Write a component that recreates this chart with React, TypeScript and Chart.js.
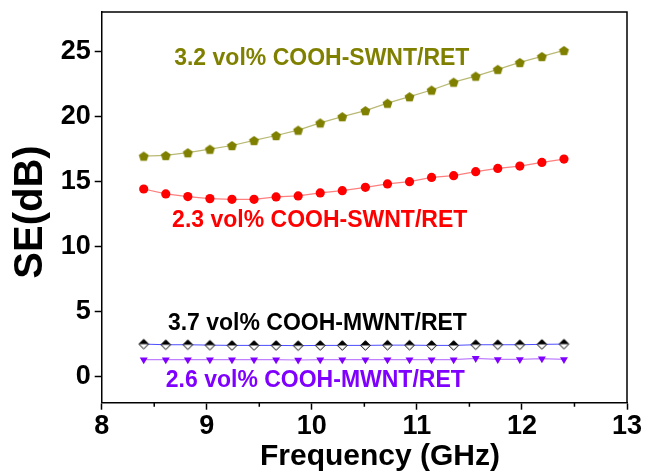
import React, { useEffect, useRef } from "react";
import { Chart, registerables } from "chart.js";

Chart.register(...registerables);

// ---- data ----
const frequencyGHz = [8.40, 8.61, 8.82, 9.03, 9.24, 9.45, 9.66, 9.87, 10.08, 10.29, 10.51, 10.72, 10.93, 11.14, 11.35, 11.56, 11.77, 11.98, 12.19, 12.40];
const swnt32 = [16.94, 16.99, 17.2, 17.47, 17.75, 18.14, 18.52, 18.93, 19.49, 19.97, 20.43, 21.0, 21.5, 22.01, 22.62, 23.08, 23.6, 24.13, 24.59, 25.05];
const swnt23 = [14.41, 14.03, 13.83, 13.67, 13.62, 13.62, 13.8, 13.88, 14.11, 14.28, 14.54, 14.8, 14.97, 15.3, 15.43, 15.74, 15.99, 16.17, 16.45, 16.71];
const mwnt37 = [2.5, 2.45, 2.45, 2.42, 2.4, 2.4, 2.4, 2.38, 2.4, 2.4, 2.4, 2.42, 2.42, 2.4, 2.4, 2.45, 2.45, 2.45, 2.48, 2.5];
const mwnt26 = [1.3, 1.3, 1.3, 1.3, 1.3, 1.3, 1.3, 1.28, 1.3, 1.3, 1.3, 1.3, 1.3, 1.3, 1.3, 1.4, 1.32, 1.32, 1.38, 1.32];

const xTicks = [8, 9, 10, 11, 12, 13];
const xMinorTicks = [8.5, 9.5, 10.5, 11.5, 12.5];
const yTicks = [0, 5, 10, 15, 20, 25];

const labels = [
  { text: "3.2 vol% COOH-SWNT/RET", x: 8.69, y: 23.94, color: "#808000" },
  { text: "2.3 vol% COOH-SWNT/RET", x: 8.67, y: 11.5, color: "#ff0000" },
  { text: "3.7 vol% COOH-MWNT/RET", x: 8.63, y: 3.59, color: "#000000" },
  { text: "2.6 vol% COOH-MWNT/RET", x: 8.61, y: -0.79, color: "#8000ff" },
];

const FONT = "'Liberation Sans', Arial, sans-serif";

function makePentagon(color: string, r: number) {
  const c = document.createElement("canvas");
  const s = Math.ceil(r * 2 + 2);
  c.width = s; c.height = s;
  const g = c.getContext("2d")!;
  g.beginPath();
  for (let i = 0; i < 5; i++) {
    const a = -Math.PI / 2 + (i * 2 * Math.PI) / 5;
    const px = s / 2 + r * Math.cos(a);
    const py = s / 2 + 0.6 + r * Math.sin(a);
    if (i === 0) g.moveTo(px, py); else g.lineTo(px, py);
  }
  g.closePath();
  g.fillStyle = color;
  g.fill();
  return c;
}

function makeHalfDiamond(r: number) {
  const c = document.createElement("canvas");
  const s = Math.ceil(r * 2 + 3);
  c.width = s; c.height = s;
  const g = c.getContext("2d")!;
  const cx = s / 2, cy = s / 2;
  g.beginPath();
  g.moveTo(cx, cy - r); g.lineTo(cx + r, cy); g.lineTo(cx, cy + r); g.lineTo(cx - r, cy); g.closePath();
  g.fillStyle = "#ffffff"; g.fill();
  g.beginPath();
  g.moveTo(cx, cy - r); g.lineTo(cx + r, cy); g.lineTo(cx - r, cy); g.closePath();
  g.fillStyle = "#000000"; g.fill();
  g.beginPath();
  g.moveTo(cx, cy - r); g.lineTo(cx + r, cy); g.lineTo(cx, cy + r); g.lineTo(cx - r, cy); g.closePath();
  g.strokeStyle = "#000000"; g.lineWidth = 1; g.stroke();
  return c;
}

const decor = {
  id: "decor",
  afterDraw(chart: any) {
    const { ctx, chartArea: a, scales } = chart;
    const xs = scales.x, ys = scales.y;
    ctx.save();
    ctx.strokeStyle = "#000";
    ctx.lineWidth = 1.5;
    ctx.beginPath();
    ctx.moveTo(a.left, a.top);
    ctx.lineTo(a.right, a.top);
    ctx.lineTo(a.right, a.bottom);
    ctx.stroke();
    ctx.beginPath();
    for (const v of xMinorTicks) {
      const px = xs.getPixelForValue(v);
      ctx.moveTo(px, a.bottom);
      ctx.lineTo(px, a.bottom + 4);
    }
    ctx.stroke();

    ctx.textBaseline = "alphabetic";
    ctx.textAlign = "left";
    ctx.font = `bold 23px ${FONT}`;
    for (const l of labels) {
      ctx.fillStyle = l.color;
      ctx.fillText(l.text, xs.getPixelForValue(l.x), ys.getPixelForValue(l.y));
    }

    ctx.fillStyle = "#000";
    ctx.font = `bold 30px ${FONT}`;
    ctx.textAlign = "center";
    ctx.fillText("Frequency (GHz)", 380, 465);

    ctx.save();
    ctx.translate(31, 212);
    ctx.rotate(-Math.PI / 2);
    ctx.font = `bold 40px ${FONT}`;
    ctx.textBaseline = "middle";
    ctx.fillText("SE(dB)", 0, 0);
    ctx.restore();
    ctx.restore();
  },
};

export default function App() {
  const ref = useRef<HTMLCanvasElement>(null);
  useEffect(() => {
    const pent = makePentagon("#808000", 5.2);
    const diam = makeHalfDiamond(4.8);
    const pts = (ys: number[]) => frequencyGHz.map((f, i) => ({ x: f, y: ys[i] }));
    const chart = new Chart(ref.current!, {
      type: "line",
      data: {
        datasets: [
          {
            data: pts(swnt32),
            borderColor: "rgba(128,128,0,0.55)",
            borderWidth: 1.2,
            pointStyle: pent as any,
            pointRadius: 5,
            backgroundColor: "#808000",
          },
          {
            data: pts(swnt23),
            borderColor: "rgba(255,0,0,0.5)",
            borderWidth: 1.2,
            pointStyle: "circle",
            pointRadius: 4.6,
            backgroundColor: "#ff0000",
            pointBorderColor: "#ff0000",
            pointBorderWidth: 0,
          },
          {
            data: pts(mwnt26),
            borderColor: "rgba(128,0,255,0.5)",
            borderWidth: 1.2,
            pointStyle: "triangle",
            rotation: 180,
            pointRadius: 4.6,
            backgroundColor: "#8000ff",
            pointBorderColor: "#8000ff",
            pointBorderWidth: 0,
          },
          {
            data: pts(mwnt37),
            borderColor: "rgba(0,0,255,0.7)",
            borderWidth: 1,
            pointStyle: diam as any,
            pointRadius: 5,
            backgroundColor: "#000",
          },
        ],
      },
      options: {
        animation: false,
        responsive: false,
        layout: { padding: { left: 0, right: 26, top: 12, bottom: 0 } },
        plugins: { legend: { display: false }, tooltip: { enabled: false } },
        elements: { line: { tension: 0 } },
        scales: {
          x: {
            type: "linear",
            min: 8,
            max: 13,
            afterBuildTicks: (s: any) => { s.ticks = xTicks.map((v) => ({ value: v })); },
            afterFit: (s: any) => { s.height = 69.3; },
            grid: { display: true, drawOnChartArea: false, tickLength: 7, tickColor: "#000", tickWidth: 1.5 },
            border: { display: true, color: "#000", width: 1.5 },
            ticks: { color: "#000", font: { family: FONT, size: 27, weight: "bold", lineHeight: 0.8 }, padding: 6, maxRotation: 0 },
          },
          y: {
            type: "linear",
            min: -2,
            max: 28,
            afterBuildTicks: (s: any) => { s.ticks = yTicks.map((v) => ({ value: v })); },
            afterFit: (s: any) => { s.width = 101.7; },
            grid: { display: true, drawOnChartArea: false, tickLength: 7, tickColor: "#000", tickWidth: 1.5 },
            border: { display: true, color: "#000", width: 1.5 },
            ticks: { color: "#000", font: { family: FONT, size: 27, weight: "bold", lineHeight: 0.4 }, padding: 4 },
          },
        },
      },
      plugins: [decor],
    } as any);
    return () => chart.destroy();
  }, []);
  return (
    <div style={{ position: "absolute", left: 0, top: 0, width: 653, height: 472, background: "#fff" }}>
      <canvas ref={ref} width={653} height={472} style={{ display: "block" }} />
    </div>
  );
}
